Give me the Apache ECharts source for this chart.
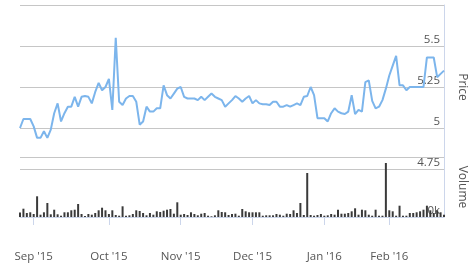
<!DOCTYPE html>
<html>
<head>
<meta charset="utf-8">
<script src="https://cdn.jsdelivr.net/npm/echarts@6/dist/echarts.min.js"></script>
<style>
html,body{margin:0;padding:0;background:#fff;}
#chart{width:476px;height:273px;}
</style>
</head>
<body>
<div id="chart"></div>
<script>
// Price (close) per trading day, Aug 2015 - Feb 2016
const prices = [
5.00,5.055,5.055,5.055,5.01,4.94,4.94,4.98,4.94,4.99,
5.09,5.15,5.04,5.09,5.13,5.13,5.19,5.13,5.19,5.195,
5.19,5.15,5.22,5.275,5.23,5.25,5.30,5.11,5.55,5.16,
5.14,5.18,5.195,5.195,5.16,5.02,5.04,5.13,5.10,5.10,
5.12,5.12,5.26,5.20,5.18,5.21,5.24,5.25,5.19,5.18,
5.18,5.18,5.17,5.19,5.17,5.19,5.21,5.19,5.18,5.17,
5.13,5.15,5.17,5.195,5.18,5.16,5.18,5.195,5.15,5.17,
5.15,5.145,5.145,5.14,5.16,5.16,5.13,5.13,5.14,5.13,
5.14,5.15,5.14,5.19,5.195,5.25,5.20,5.06,5.06,5.06,
5.04,5.09,5.12,5.10,5.09,5.085,5.10,5.20,5.085,5.11,
5.10,5.28,5.29,5.165,5.12,5.13,5.17,5.24,5.32,5.38,
5.44,5.26,5.26,5.23,5.25,5.25,5.25,5.25,5.25,5.43,
5.43,5.43,5.31,5.33,5.35
];
// Volume (thousands)
const volumes = [
45,83,40,47,30,207,23,47,140,27,
73,27,13,47,47,67,73,130,30,10,
30,23,40,67,93,67,30,67,20,13,
107,13,17,30,67,60,40,17,40,23,
57,50,63,73,80,33,147,23,30,20,
47,30,17,33,40,13,7,17,67,50,
47,20,30,33,13,80,57,47,47,47,
47,13,17,17,17,30,23,13,33,30,
67,40,140,20,440,20,13,20,30,13,
17,30,23,73,33,33,40,57,87,23,
73,67,23,13,73,13,13,540,67,57,
13,113,13,13,40,40,47,57,73,113,
67,40,67,47,23
];
const categories = prices.map((_, i) => String(i));
const tickIndex = [4, 26, 47, 68, 89, 108];
const tickLabels = ["Sep '15", "Oct '15", "Nov '15", "Dec '15", "Jan '16", "Feb '16"];

const tickMap = {};
tickIndex.forEach((t, k) => { tickMap[t] = tickLabels[k]; });
const isTick = (i) => tickMap[i] !== undefined;

const FONT = 'Open Sans';
const GRID = '#c6c6c6';
const AXIS = '#ccd6eb';

const chart = echarts.init(document.getElementById('chart'), null, {renderer: 'canvas'});
chart.setOption({
  animation: false,
  backgroundColor: '#ffffff',
  textStyle: {fontFamily: FONT},
  grid: [
    {left: 20, right: 32, top: 5, height: 164},
    {left: 20, right: 32, top: 157, height: 60}
  ],
  xAxis: [
    {type: 'category', gridIndex: 0, data: categories, boundaryGap: false, show: false},
    {type: 'category', gridIndex: 1, data: categories, boundaryGap: false, offset: 23,
      axisLine: {show: true, lineStyle: {color: AXIS, width: 1}},
      axisTick: {show: true, length: 8, interval: (i) => isTick(i), lineStyle: {color: AXIS}},
      axisLabel: {interval: (i) => isTick(i), formatter: (v, i) => tickMap[i] || '',
        color: '#555', fontSize: 11.5, fontFamily: FONT, margin: 11},
      splitLine: {show: false}
    }
  ],
  yAxis: [
    {type: 'value', gridIndex: 0, position: 'right', min: 4.75, max: 5.75, interval: 0.25,
      axisLine: {show: true, lineStyle: {color: AXIS}},
      axisTick: {show: false},
      splitLine: {show: true, lineStyle: {color: GRID, width: 1}},
      axisLabel: {inside: true, showMaxLabel: false, showMinLabel: true, color: '#555',
        fontSize: 11.5, fontFamily: FONT, margin: 4, verticalAlign: 'bottom', padding: [0, 0, 0, 0]},
      name: 'Price', nameLocation: 'middle', nameRotate: -90, nameGap: 12,
      nameTextStyle: {color: '#555', fontSize: 12, fontFamily: FONT}
    },
    {type: 'value', gridIndex: 1, position: 'right', min: 0, max: 600, interval: 600,
      axisLine: {show: true, lineStyle: {color: AXIS}},
      axisTick: {show: false},
      splitLine: {show: true, lineStyle: {color: GRID, width: 1}},
      axisLabel: {inside: true, showMaxLabel: false, color: '#555', formatter: (v) => v + 'k',
        fontSize: 11.5, fontFamily: FONT, margin: 4, verticalAlign: 'bottom', padding: [0, 0, 0, 0]},
      name: 'Volume', nameLocation: 'middle', nameRotate: -90, nameGap: 12,
      nameTextStyle: {color: '#555', fontSize: 12, fontFamily: FONT}
    }
  ],
  series: [
    {type: 'line', name: 'Price', xAxisIndex: 0, yAxisIndex: 0, data: prices,
      showSymbol: false, symbol: 'none', lineStyle: {color: '#7cb5ec', width: 2}, z: 3},
    {type: 'bar', name: 'Volume', xAxisIndex: 1, yAxisIndex: 1, data: volumes,
      barWidth: 2, itemStyle: {color: '#3a3a3a'}, z: 3}
  ]
});
</script>
</body>
</html>
